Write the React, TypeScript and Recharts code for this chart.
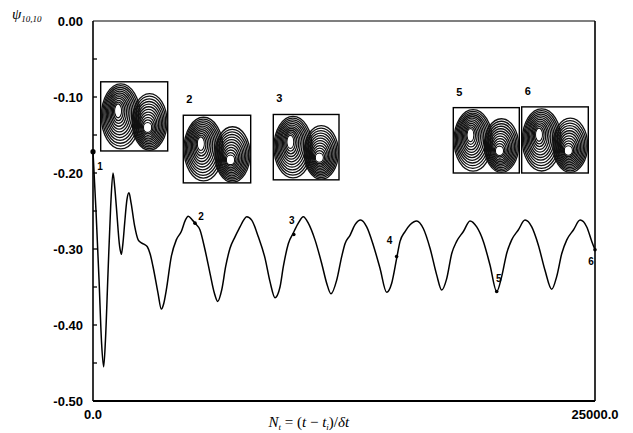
import React from 'react';
import {
  LineChart, Line, XAxis, YAxis, ReferenceArea, ReferenceDot, ReferenceLine,
} from 'recharts';

// N_t steps and psi_10,10
const STEPS = [
  0, 150, 300, 430, 530, 620, 747, 880, 996, 1080, 1162, 1328, 1411, 1500, 1577, 1690, 1792,
  1900, 2075, 2250, 2407, 2560, 2706, 2850, 2988, 3237, 3401, 3520, 3650, 3899, 4148, 4397,
  4600, 4740, 4950, 5080, 5329, 5578, 5827, 6043, 6209, 6409, 6608, 6823, 7072, 7321, 7500,
  7653, 7903, 8233, 8566, 8815, 9064, 9313, 9480, 9726, 9975, 10224, 10473, 10722, 11056,
  11389, 11638, 11852, 12136, 12385, 12550, 12800, 13050, 13330, 13630, 13960, 14290, 14625,
  14875, 15125, 15290, 15540, 15790, 16120, 16450, 16785, 17115, 17365, 17615, 17865, 18110,
  18445, 18775, 19110, 19440, 19770, 20105, 20355, 20600, 20850, 21180, 21515, 21850, 22180,
  22510, 22845, 23095, 23345, 23595, 23925, 24260, 24590, 24840, 25000,
];
const PSI = [
  -0.172, -0.25, -0.34, -0.425, -0.455, -0.42, -0.332, -0.244, -0.2, -0.218, -0.244, -0.297,
  -0.307, -0.29, -0.266, -0.235, -0.226, -0.24, -0.27, -0.288, -0.292, -0.294, -0.297, -0.307,
  -0.323, -0.358, -0.379, -0.372, -0.354, -0.31, -0.288, -0.277, -0.262, -0.257, -0.262, -0.266,
  -0.275, -0.301, -0.332, -0.358, -0.369, -0.354, -0.323, -0.299, -0.284, -0.271, -0.262,
  -0.2575, -0.262, -0.284, -0.312, -0.343, -0.364, -0.35, -0.323, -0.293, -0.279, -0.266,
  -0.2575, -0.266, -0.288, -0.319, -0.345, -0.359, -0.341, -0.31, -0.293, -0.282, -0.268,
  -0.262, -0.271, -0.295, -0.325, -0.357, -0.345, -0.312, -0.29, -0.277, -0.268, -0.263,
  -0.273, -0.299, -0.334, -0.354, -0.339, -0.306, -0.29, -0.277, -0.263, -0.271, -0.29, -0.321,
  -0.356, -0.336, -0.306, -0.288, -0.275, -0.262, -0.271, -0.295, -0.328, -0.353, -0.336,
  -0.306, -0.288, -0.275, -0.262, -0.271, -0.29, -0.301,
];

// every 0.05 gets an inward tick, every 0.1 gets a label
const Y_TICKS = [0, -0.05, -0.1, -0.15, -0.2, -0.25, -0.3, -0.35, -0.4, -0.45, -0.5];
const X_TICKS = [0, 25000];

// numbered snapshots marked on the trace
const SNAP_STEPS = [0, 5080, 10000, 15120, 20105, 25000];
const SNAP_PSI = [-0.172, -0.266, -0.281, -0.31, -0.356, -0.301];
const SNAP_LABELS = ['1', '2', '3', '4', '5', '6'];

// contour insets, placed in data units
const INSET_FROM = [383, 4497, 8979, 17943, 21349];
const INSET_TO = [3720, 7853, 12251, 21230, 24666];
const INSET_TOP = [-0.08, -0.124, -0.123, -0.114, -0.113];
const INSET_BOTTOM = [-0.171, -0.213, -0.209, -0.2, -0.2];
const INSET_LABELS = ['', '2', '3', '5', '6'];

const data = STEPS.map((t, i) => ({ t, psi: PSI[i] }));

const SNAP_OFFSETS = [[7, 15], [6, -7], [-2, -14], [-7, -16], [2, -13], [-4, 12]];
const SANS = '"Liberation Sans", Arial, sans-serif';
const TICK_FONT = { fontSize: 13, fontWeight: 700, fill: '#000', fontFamily: SANS };

const isMajor = (v: number) => Math.abs(Math.round(v * 10) - v * 10) < 1e-6;

const LeftTick = (p: any) => {
  const v = p.payload.value;
  const ax = p.x + 10;
  return (
    <g>
      {v !== 0 && v !== -0.5 && <line x1={ax} x2={ax + 4} y1={p.y} y2={p.y} stroke="#000" strokeWidth={1.3} />}
      {isMajor(v) && (
        <text x={p.x} y={p.y} dy={5} textAnchor="end" {...TICK_FONT}>{v.toFixed(2)}</text>
      )}
    </g>
  );
};

const RightTick = (p: any) => {
  const v = p.payload.value;
  if (v === 0 || v === -0.5) return <g />;
  return <line x1={p.x - 4} x2={p.x} y1={p.y} y2={p.y} stroke="#000" strokeWidth={1.3} />;
};

const rings = (
  x: number, y: number, w: number, h: number,
  o: number[], c: number[], key: string,
) => {
  const n = 12;
  const out = [];
  for (let k = 0; k < n; k++) {
    const s = k / (n - 1);
    out.push(
      <ellipse
        key={key + k}
        cx={x + (o[0] + (c[0] - o[0]) * s) * w}
        cy={y + (o[1] + (c[1] - o[1]) * s) * h}
        rx={(o[2] + (c[2] - o[2]) * s) * w}
        ry={(o[3] + (c[3] - o[3]) * s) * h}
        fill="none"
        stroke="#111"
        strokeWidth={1.3}
      />,
    );
  }
  out.push(
    <ellipse key={key + 'core'} cx={x + c[0] * w} cy={y + c[1] * h} rx={c[2] * w * 0.85} ry={c[3] * h * 0.85} fill="#fff" />,
  );
  return out;
};

const renderInset = (label: string) => (p: any) => {
  const { x, y, width: w, height: h } = p;
  return (
    <g>
      <rect x={x} y={y} width={w} height={h} fill="#fff" stroke="#000" strokeWidth={1.4} />
      {rings(x, y, w, h, [0.3, 0.5, 0.29, 0.47], [0.26, 0.42, 0.05, 0.1], 'l')}
      {rings(x, y, w, h, [0.73, 0.58, 0.26, 0.41], [0.7, 0.66, 0.06, 0.07], 'r')}
      {label && (
        <text x={x + 3} y={y - 12} fontSize={11} fontWeight={700} fontFamily={SANS}>
          {label}
        </text>
      )}
    </g>
  );
};

const renderSnap = (i: number) => (p: any) => (
  <g>
    <circle cx={p.cx} cy={p.cy} r={i === 0 ? 2.6 : 1.8} fill="#000" />
    <text
      x={p.cx + SNAP_OFFSETS[i][0]}
      y={p.cy + SNAP_OFFSETS[i][1]}
      textAnchor="middle"
      dominantBaseline="central"
      fontSize={10}
      fontWeight={700}
      fontFamily={SANS}
    >
      {SNAP_LABELS[i]}
    </text>
  </g>
);

const renderPsiLabel = (props: any) => {
  const vb = props.viewBox || { x: 0, y: 21 };
  return (
    <text x={vb.x + 12} y={vb.y - 2} fontFamily='"Liberation Serif", "DejaVu Serif", serif' fontStyle="italic" fontSize={15}>
      ψ<tspan fontSize={9} dy={3}>10,10</tspan>
    </text>
  );
};

const renderStepLabel = (props: any) => {
  const vb = props.viewBox || { x: 93, y: 401, width: 502 };
  return (
    <text
      x={vb.x + vb.width * 0.43}
      y={vb.y + 26}
      textAnchor="middle"
      fontFamily='"Liberation Serif", "DejaVu Serif", serif'
      fontStyle="italic"
      fontSize={15}
    >
      N<tspan fontSize={9} dy={3}>t</tspan>
      <tspan dy={-3} fontStyle="normal"> = (</tspan>t<tspan fontStyle="normal">{'   − '}</tspan>t
      <tspan fontSize={9} dy={3}>i</tspan>
      <tspan dy={-3} fontStyle="normal">)/</tspan>δt
    </text>
  );
};

export default function App() {
  return (
    <div style={{ position: 'absolute', left: 0, top: 0, width: 633, height: 433, background: '#fff' }}>
      <LineChart width={633} height={433} data={data} margin={{ top: 21, right: 37, left: 0, bottom: 2 }}>
        <XAxis
          dataKey="t"
          type="number"
          domain={[0, 25000]}
          ticks={X_TICKS}
          tickFormatter={(v: number) => v.toFixed(1)}
          tickLine={false}
          tickMargin={3}
          height={30}
          axisLine={{ stroke: '#000', strokeWidth: 2 }}
          tick={TICK_FONT}
          label={renderStepLabel}
        />
        <YAxis
          type="number"
          domain={[-0.5, 0]}
          ticks={Y_TICKS}
          interval={0}
          width={93}
          tickLine={false}
          tickSize={0}
          tickMargin={10}
          axisLine={{ stroke: '#000', strokeWidth: 1.6 }}
          tick={LeftTick}
          label={renderPsiLabel}
        />
        <YAxis
          yAxisId="frameR"
          orientation="right"
          type="number"
          domain={[-0.5, 0]}
          ticks={Y_TICKS}
          interval={0}
          width={1}
          tickLine={false}
          tickSize={0}
          tickMargin={0}
          axisLine={false}
          tick={RightTick}
        />
        <ReferenceLine y={0} stroke="#000" strokeWidth={1.1} />
        <ReferenceLine x={25000} stroke="#000" strokeWidth={1.6} />
        {INSET_FROM.map((x1, i) => (
          <ReferenceArea
            key={'inset' + i}
            x1={x1}
            x2={INSET_TO[i]}
            y1={INSET_BOTTOM[i]}
            y2={INSET_TOP[i]}
            shape={renderInset(INSET_LABELS[i])}
          />
        ))}
        <Line
          type="monotone"
          dataKey="psi"
          stroke="#000"
          strokeWidth={1.5}
          dot={false}
          isAnimationActive={false}
        />
        {SNAP_STEPS.map((t, i) => (
          <ReferenceDot key={'snap' + i} x={t} y={SNAP_PSI[i]} shape={renderSnap(i)} ifOverflow="visible" />
        ))}
      </LineChart>
    </div>
  );
}
